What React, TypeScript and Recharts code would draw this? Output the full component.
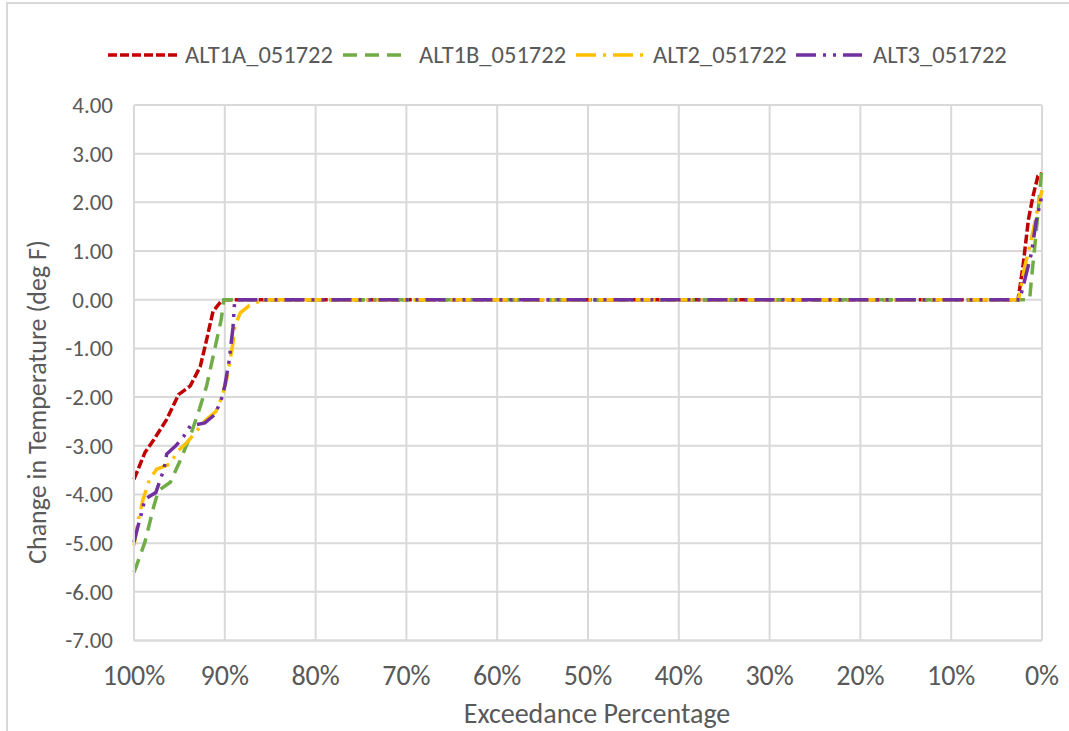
import React from 'react';
import { LineChart, Line, XAxis, YAxis, CartesianGrid } from 'recharts';

// Exceedance percentage (x) and change in temperature (deg F) for each alternative
const alt1aX = [100, 98.8, 97.8, 96.4, 95.1, 93.8, 92.7, 92.0, 91.3, 90.4, 90.0, 2.64, 2.1, 1.5, 1.0, 0.45, 0];
const alt1aY = [-3.69, -3.14, -2.87, -2.46, -1.95, -1.77, -1.37, -0.82, -0.24, -0.03, 0, 0, 0.68, 1.64, 2.12, 2.54, 2.6];

const alt1bX = [100, 99.7, 98.8, 97.8, 97.3, 96.0, 95.0, 93.8, 92.8, 92.0, 91.2, 90.4, 90.1, 1.36, 1.17, 0.8, 0.55, 0.26, 0];
const alt1bY = [-5.6, -5.45, -4.98, -4.23, -3.92, -3.75, -3.34, -2.8, -2.25, -1.77, -1.09, -0.41, 0, 0, 0.41, 1.09, 1.57, 2.18, 2.76];

const alt2X = [100, 99.5, 99.0, 98.3, 97.5, 96.1, 95.1, 94.2, 93.2, 92.2, 91.0, 90.3, 89.8, 89.1, 88.9, 88.3, 87.3, 85.8, 2.6, 1.9, 1.36, 1.0, 0.44, 0];
const alt2Y = [-5.05, -4.5, -4.1, -3.7, -3.48, -3.38, -3.1, -2.94, -2.72, -2.49, -2.3, -1.99, -1.64, -0.89, -0.55, -0.27, -0.12, 0, 0, 0.68, 1.09, 1.4, 1.91, 2.25];

const alt3X = [100, 99.6, 99.2, 98.8, 97.6, 96.7, 96.4, 95.4, 94.5, 93.8, 92.2, 91.1, 90.4, 90.0, 89.5, 89.3, 89.1, 89.0, 88.9, 2.45, 1.72, 1.17, 0.62, 0];
const alt3Y = [-4.98, -4.68, -4.4, -4.1, -3.96, -3.48, -3.17, -3.0, -2.8, -2.59, -2.53, -2.36, -2.06, -1.77, -1.23, -0.89, -0.58, -0.27, 0, 0, 0.54, 0.95, 1.64, 2.15];

const seriesNames = ['ALT1A_051722', 'ALT1B_051722', 'ALT2_051722', 'ALT3_051722'];
const xTicks = [100, 90, 80, 70, 60, 50, 40, 30, 20, 10, 0];
const yTicks = [4, 3, 2, 1, 0, -1, -2, -3, -4, -5, -6, -7];
const yTitle = 'Change in Temperature (deg F)';
const xTitle = 'Exceedance Percentage';

const build = (xs: number[], ys: number[]) => xs.map((x, i) => ({ x, y: ys[i] }));

const FONT = "Carlito, 'Open Sans', sans-serif";
const TEXT = '#595959';
const GRID = '#d9d9d9';

const styles = [
  { color: '#C00000', dash: '9 3' },
  { color: '#70AD47', dash: '14 8' },
  { color: '#FFC000', dash: '20 7 3 7' },
  { color: '#7030A0', dash: '20 7 3 7 3 7' },
];

const XTick = (props: any) => {
  const { x, payload } = props;
  return (
    <text x={x} y={685} textAnchor="middle" fill={TEXT} fontSize={28} fontFamily={FONT}>
      {payload.value + '%'}
    </text>
  );
};

const YTick = (props: any) => {
  const { y, payload } = props;
  return (
    <text x={113} y={y} dy="0.34em" textAnchor="end" fill={TEXT} fontSize={23} fontFamily={FONT}>
      {Number(payload.value).toFixed(2)}
    </text>
  );
};

const legendPos = [
  { lx1: 108, lx2: 180, tx: 185 },
  { lx1: 343, lx2: 409, tx: 419 },
  { lx1: 576, lx2: 644, tx: 653 },
  { lx1: 796, lx2: 862, tx: 873 },
];

export default function App() {
  const datasets = [build(alt1aX, alt1aY), build(alt1bX, alt1bY), build(alt2X, alt2Y), build(alt3X, alt3Y)];
  return (
    <div style={{ position: 'absolute', left: 0, top: 0, width: 1069, height: 731, overflow: 'hidden', background: '#fff' }}>
      <div style={{ position: 'absolute', left: 6, top: 2, width: 1100, height: 800, border: `2px solid ${GRID}`, boxSizing: 'border-box' }} />
      <div style={{ position: 'absolute', left: 0, top: 0 }}>
        <LineChart width={1069} height={731} margin={{ top: 105, right: 27, bottom: 0, left: 0 }}>
          <CartesianGrid stroke={GRID} strokeWidth={2} />
          <XAxis
            dataKey="x"
            type="number"
            domain={[0, 100]}
            reversed
            ticks={xTicks}
            tick={<XTick />}
            tickLine={false}
            axisLine={{ stroke: GRID, strokeWidth: 2 }}
            height={90.5}
            allowDuplicatedCategory={false}
          />
          <YAxis
            dataKey="y"
            type="number"
            domain={[-7, 4]}
            ticks={yTicks}
            tick={<YTick />}
            tickLine={false}
            axisLine={{ stroke: GRID, strokeWidth: 2 }}
            width={134}
            interval={0}
          />
          {datasets.map((d, i) => (
            <Line
              key={seriesNames[i]}
              data={d}
              dataKey="y"
              name={seriesNames[i]}
              type="linear"
              stroke={styles[i].color}
              strokeWidth={3.5}
              strokeDasharray={styles[i].dash}
              dot={false}
              activeDot={false}
              isAnimationActive={false}
            />
          ))}
        </LineChart>
      </div>
      <svg width={1069} height={731} style={{ position: 'absolute', left: 0, top: 0, pointerEvents: 'none' }}>
        {seriesNames.map((n, i) => (
          <g key={n}>
            <line x1={legendPos[i].lx1} x2={legendPos[i].lx2} y1={55} y2={55} stroke={styles[i].color} strokeWidth={3.5} strokeDasharray={styles[i].dash} />
            <text x={legendPos[i].tx} y={55} dy="0.34em" fill={TEXT} fontSize={24.5} fontFamily={FONT}>{n}</text>
          </g>
        ))}
        <text x={37} y={402} transform="rotate(-90, 37, 402)" textAnchor="middle" dy="0.34em" fill={TEXT} fontSize={26} fontFamily={FONT}>{yTitle}</text>
        <text x={597} y={713} textAnchor="middle" dy="0.34em" fill={TEXT} fontSize={28} fontFamily={FONT}>{xTitle}</text>
      </svg>
    </div>
  );
}
